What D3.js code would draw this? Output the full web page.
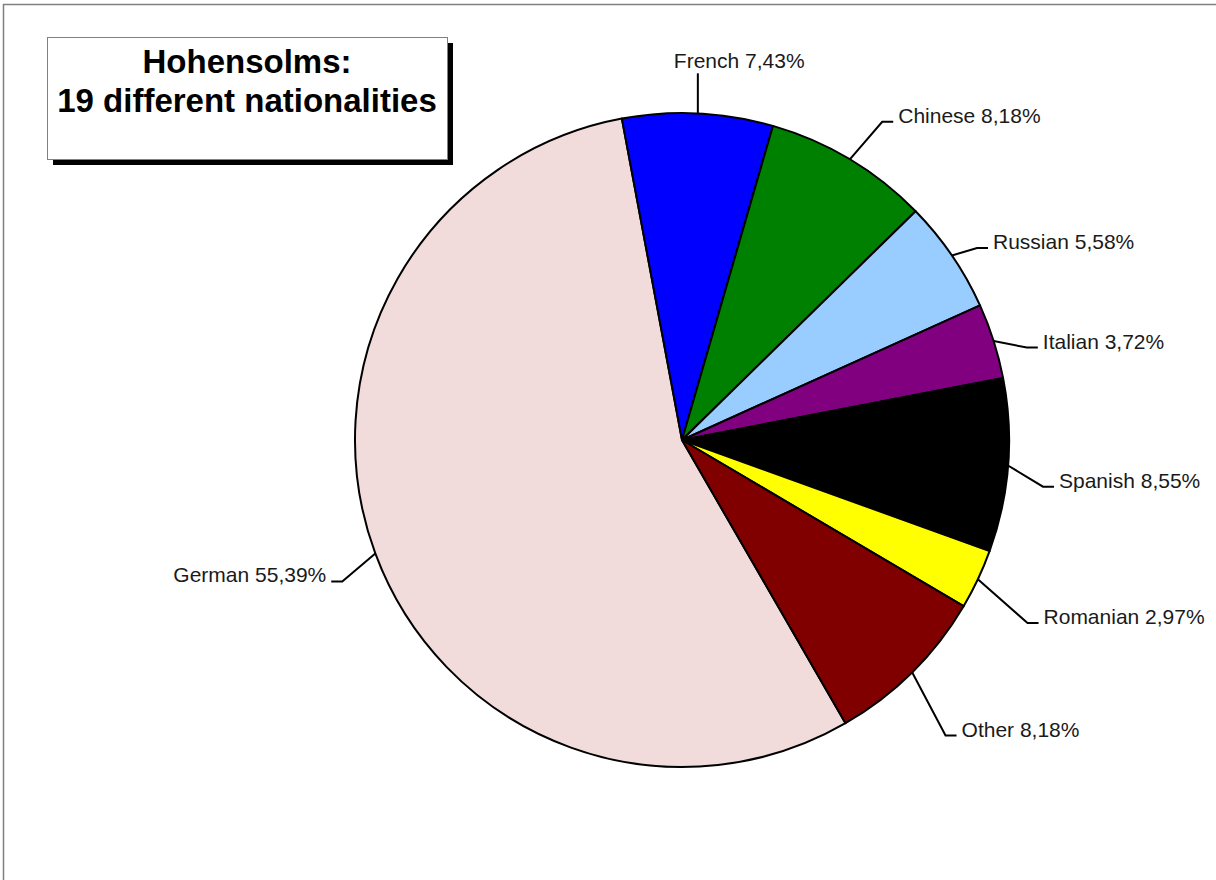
<!DOCTYPE html>
<html>
<head>
<meta charset="utf-8">
<script src="https://cdn.jsdelivr.net/npm/d3@7"></script>
<style>
  body { margin: 0; background: #fff; }
  svg { display: block; font-family: "Liberation Sans", Arial, sans-serif; }
</style>
</head>
<body>
<svg id="chart" width="1216" height="880"></svg>
<script>
// chart data
const nationalities = ["German", "French", "Chinese", "Russian", "Italian", "Spanish", "Romanian", "Other"];
const shares = [55.39, 7.43, 8.18, 5.58, 3.72, 8.55, 2.97, 8.18];
const sliceColors = ["#f2dcdb", "#0000ff", "#008000", "#99ccff", "#800080", "#000000", "#ffff00", "#800000"];
const titleLines = ["Hohensolms:", "19 different nationalities"];

// layout
const width = 1216;
const height = 880;
const cx = 682;
const cy = 440;
const radius = 327;
const firstSliceAngle = 150; // degrees, clockwise from 12 o'clock
// leader elbow per slice: radius and angle nudge (deg) relative to slice middle
const elbowRadius = [368, 367, 376, 352, 357, 364, 391, 396];
const elbowNudge = [-2.3, -0.4, 1.3, 1.3, 2.6, 2.9, 2.7, 3.0];
const tailLength = 11;

const svg = d3.select("#chart");

// outer chart area border (runs off the right and bottom edges)
svg.append("path")
  .attr("d", `M3.5,${height} V4.5 H${width}`)
  .attr("fill", "none")
  .attr("stroke", "#808080")
  .attr("stroke-width", 1.5);

// pie
const pie = d3.pie()
  .sort(null)
  .startAngle(firstSliceAngle * Math.PI / 180)
  .endAngle(firstSliceAngle * Math.PI / 180 + 2 * Math.PI)
  .value(d => d);

const arc = d3.arc().innerRadius(0).outerRadius(radius);
const arcs = pie(shares);

const pieGroup = svg.append("g")
  .attr("transform", `translate(${cx},${cy})`);

pieGroup.selectAll(".slice")
  .data(arcs)
  .enter()
  .append("path")
  .attr("class", "slice")
  .attr("d", arc)
  .attr("fill", (d, i) => sliceColors[i])
  .attr("stroke", "#000")
  .attr("stroke-width", 2)
  .attr("stroke-linejoin", "round");

// polar helper, angle 0 at top, clockwise
function polar(angle, r) {
  return [r * Math.sin(angle), -r * Math.cos(angle)];
}

// labels with leader lines
const labels = pieGroup.selectAll(".label")
  .data(arcs)
  .enter()
  .append("g")
  .attr("class", "label");

labels.each(function (d, i) {
  const g = d3.select(this);
  const mid = (d.startAngle + d.endAngle) / 2;
  const start = polar(mid, radius);
  const elbow = polar(mid + elbowNudge[i] * Math.PI / 180, elbowRadius[i]);
  const text = nationalities[i] + " " + d3.format(".2f")(shares[i]).replace(".", ",") + "%";
  const side = Math.sin(mid) >= 0 ? 1 : -1;
  const isTop = Math.abs(Math.sin(mid)) < 0.1 && Math.cos(mid) > 0;

  if (isTop) {
    // vertical leader straight up to the label
    g.append("path")
      .attr("d", `M${start[0]},${start[1]} V${elbow[1]}`)
      .attr("fill", "none")
      .attr("stroke", "#000")
      .attr("stroke-width", 2);
    g.append("text")
      .attr("x", start[0] - 24)
      .attr("y", elbow[1] - 5)
      .attr("font-size", 21)
      .attr("fill", "#1a1a1a")
      .text(text);
    return;
  }

  const tailX = elbow[0] + side * tailLength;
  g.append("path")
    .attr("d", `M${start[0]},${start[1]} L${elbow[0]},${elbow[1]} H${tailX}`)
    .attr("fill", "none")
    .attr("stroke", "#000")
    .attr("stroke-width", 2);

  g.append("text")
    .attr("x", tailX + side * 5)
    .attr("y", elbow[1] + 1)
    .attr("text-anchor", side > 0 ? "start" : "end")
    .attr("font-size", 21)
    .attr("fill", "#1a1a1a")
    .text(text);
});

// title box with drop shadow
const box = { x: 47, y: 37, w: 400, h: 122, shadow: 6 };
svg.append("rect")
  .attr("x", box.x + box.shadow)
  .attr("y", box.y + box.shadow)
  .attr("width", box.w)
  .attr("height", box.h)
  .attr("fill", "#000");
svg.append("rect")
  .attr("x", box.x + 0.5)
  .attr("y", box.y + 0.5)
  .attr("width", box.w)
  .attr("height", box.h)
  .attr("fill", "#fff")
  .attr("stroke", "#808080")
  .attr("stroke-width", 1);

svg.append("text")
  .attr("x", box.x + box.w / 2)
  .attr("text-anchor", "middle")
  .attr("font-size", 33)
  .attr("font-weight", "bold")
  .attr("fill", "#000")
  .selectAll("tspan")
  .data(titleLines)
  .enter()
  .append("tspan")
  .attr("x", box.x + box.w / 2)
  .attr("y", (d, i) => 73 + i * 39)
  .text(d => d);
</script>
</body>
</html>
